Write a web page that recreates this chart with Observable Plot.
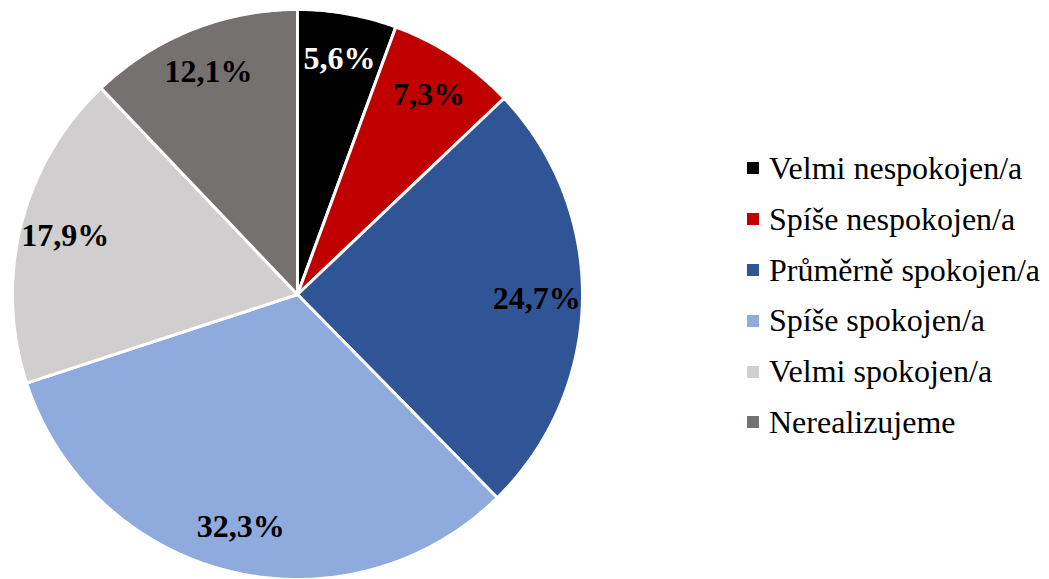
<!DOCTYPE html>
<html>
<head>
<meta charset="utf-8">
<script src="https://cdn.jsdelivr.net/npm/d3@7"></script>
<script src="https://cdn.jsdelivr.net/npm/@observablehq/plot@0.6"></script>
<style>
  html, body { margin: 0; padding: 0; background: #fff; }
  #wrap { position: relative; width: 1049px; height: 579px; overflow: hidden; }
  #legend { position: absolute; left: 747px; top: 143px; font-family: "Liberation Serif", "Times New Roman", serif; font-size: 32px; line-height: 50.8px; color: #000; }
  #legend .row { display: flex; align-items: center; white-space: nowrap; height: 50.8px; }
  #legend .sw { width: 12px; height: 12px; margin-right: 10px; flex: none; }
</style>
</head>
<body>
<div id="wrap"><div id="chart"></div><div id="legend"></div></div>
<script>
const categories = ["Velmi nespokojen/a", "Spíše nespokojen/a", "Průměrně spokojen/a", "Spíše spokojen/a", "Velmi spokojen/a", "Nerealizujeme"];
const values = [5.6, 7.3, 24.7, 32.3, 17.9, 12.1];
const labels = ["5,6%", "7,3%", "24,7%", "32,3%", "17,9%", "12,1%"];
const colors = ["#000000", "#C00000", "#2F5597", "#8FAADC", "#D0CECE", "#767171"];
const labelColors = ["#ffffff", "#000000", "#000000", "#000000", "#000000", "#000000"];

const pie = d3.pie().sort(null).value(d => d)(values);

// Slice polygons in unit coordinates (angle measured clockwise from 12 o'clock)
const polys = [];
pie.forEach((p, i) => {
  polys.push({cat: categories[i], x: 0, y: 0});
  const n = Math.max(2, Math.ceil((p.endAngle - p.startAngle) / 0.01));
  for (let k = 0; k <= n; k++) {
    const a = p.startAngle + (p.endAngle - p.startAngle) * k / n;
    polys.push({cat: categories[i], x: Math.sin(a), y: Math.cos(a)});
  }
});
const labelR = 0.84;
const labelData = pie.map((p, i) => {
  const a = (p.startAngle + p.endAngle) / 2;
  return {cat: categories[i], label: labels[i], fill: labelColors[i], x: labelR * Math.sin(a), y: labelR * Math.cos(a)};
});

const chart = Plot.plot({
  width: 1049,
  height: 579,
  marginLeft: 12,
  marginRight: 467,
  marginTop: 9,
  marginBottom: 0,
  x: {domain: [-1, 1], axis: null},
  y: {domain: [-1, 1], axis: null},
  color: {domain: categories, range: colors},
  style: {background: "#fff"},
  marks: [
    Plot.line(polys, {x: "x", y: "y", z: "cat", fill: "cat", stroke: "#fff", strokeWidth: 3, curve: "linear-closed", strokeLinejoin: "round"}),
    Plot.text(labelData, {x: "x", y: "y", text: "label", fill: "fill", fontSize: 32, fontWeight: "bold", fontFamily: "Liberation Serif, Times New Roman, serif"})
  ]
});
document.getElementById("chart").appendChild(chart);

const legend = document.getElementById("legend");
categories.forEach((c, i) => {
  const row = document.createElement("div");
  row.className = "row";
  const sw = document.createElement("span");
  sw.className = "sw";
  sw.style.background = colors[i];
  const t = document.createElement("span");
  t.textContent = c;
  row.appendChild(sw);
  row.appendChild(t);
  legend.appendChild(row);
});
</script>
</body>
</html>
